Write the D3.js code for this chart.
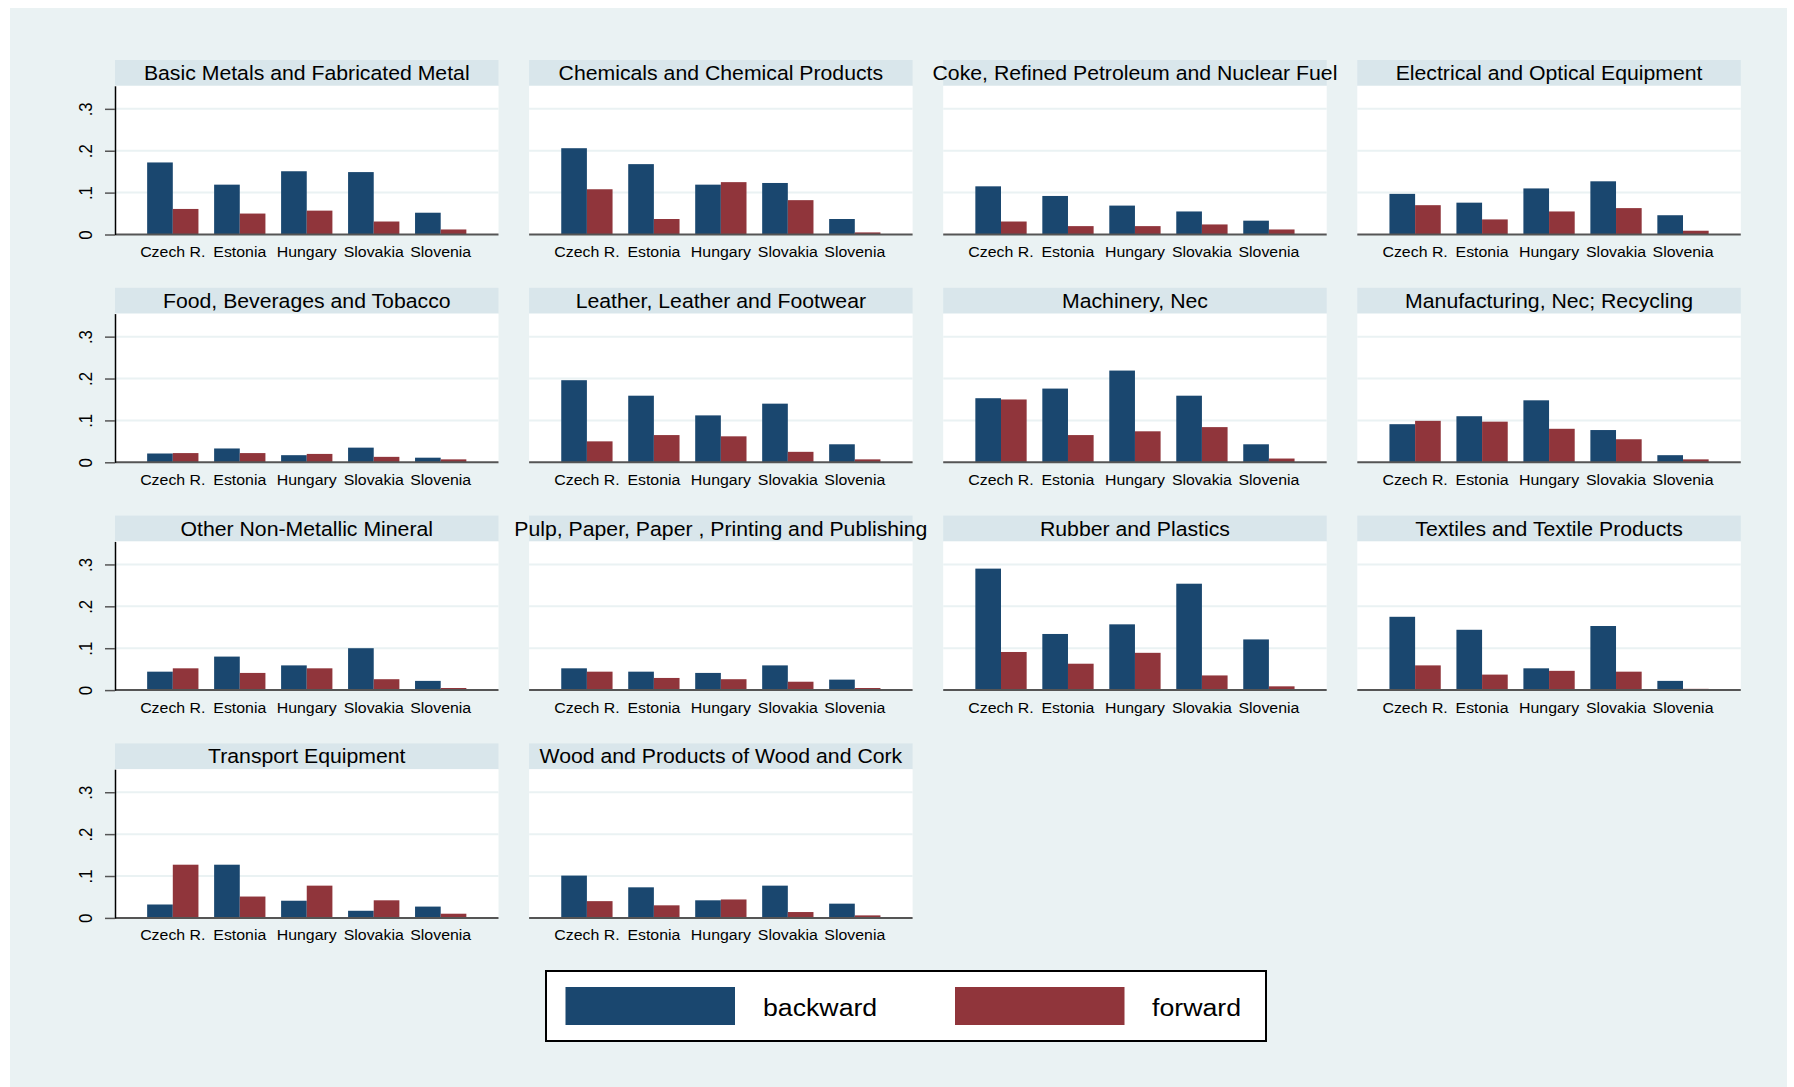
<!DOCTYPE html>
<html>
<head>
<meta charset="utf-8">
<script src="https://cdn.jsdelivr.net/npm/d3@7"></script>
<style>
  html, body { margin: 0; padding: 0; background: #ffffff; }
  svg { display: block; }
  text { font-family: "Liberation Sans", Arial, Helvetica, sans-serif; }
</style>
</head>
<body>
<svg id="chart" width="1794" height="1087"></svg>
<script>
// ---------------- data ----------------
const countries = ["Czech R.", "Estonia", "Hungary", "Slovakia", "Slovenia"];
const sectors = [
  "Basic Metals and Fabricated Metal",
  "Chemicals and Chemical Products",
  "Coke, Refined Petroleum and Nuclear Fuel",
  "Electrical and Optical Equipment",
  "Food, Beverages and Tobacco",
  "Leather, Leather and Footwear",
  "Machinery, Nec",
  "Manufacturing, Nec; Recycling",
  "Other Non-Metallic Mineral",
  "Pulp, Paper, Paper , Printing and Publishing",
  "Rubber and Plastics",
  "Textiles and Textile Products",
  "Transport Equipment",
  "Wood and Products of Wood and Cork"
];
const backward = [
  [0.172, 0.119, 0.151, 0.149, 0.052],
  [0.206, 0.168, 0.119, 0.123, 0.037],
  [0.115, 0.092, 0.069, 0.055, 0.033],
  [0.097, 0.076, 0.110, 0.127, 0.046],
  [0.021, 0.033, 0.017, 0.035, 0.011],
  [0.196, 0.159, 0.112, 0.140, 0.043],
  [0.153, 0.176, 0.219, 0.159, 0.043],
  [0.091, 0.110, 0.148, 0.077, 0.017],
  [0.044, 0.080, 0.059, 0.100, 0.022],
  [0.052, 0.044, 0.041, 0.059, 0.025],
  [0.290, 0.134, 0.157, 0.254, 0.121],
  [0.175, 0.144, 0.052, 0.153, 0.022],
  [0.032, 0.127, 0.041, 0.017, 0.027],
  [0.101, 0.073, 0.042, 0.077, 0.034]
];
const forward = [
  [0.061, 0.050, 0.057, 0.031, 0.012],
  [0.108, 0.037, 0.125, 0.082, 0.005],
  [0.031, 0.020, 0.020, 0.024, 0.012],
  [0.070, 0.036, 0.055, 0.063, 0.009],
  [0.022, 0.022, 0.020, 0.013, 0.007],
  [0.050, 0.065, 0.062, 0.025, 0.007],
  [0.150, 0.065, 0.074, 0.084, 0.009],
  [0.099, 0.097, 0.080, 0.055, 0.007],
  [0.052, 0.041, 0.052, 0.026, 0.005],
  [0.044, 0.029, 0.026, 0.020, 0.005],
  [0.091, 0.063, 0.089, 0.035, 0.009],
  [0.059, 0.037, 0.046, 0.044, 0.003],
  [0.127, 0.051, 0.077, 0.042, 0.010],
  [0.040, 0.030, 0.044, 0.014, 0.006]
];
const seriesNames = ["backward", "forward"];
const yTickValues = [0, 0.1, 0.2, 0.3];
const yTickLabels = ["0", ".1", ".2", ".3"];

// ---------------- styling / layout ----------------
const COLORS = { backward: "#1A476F", forward: "#90353B" };
const BG = "#EAF2F3", HEADER = "#D9E6EB", GRID = "#EAF2F3";
const SX = 1.09; // horizontal text stretch
const nCols = 4;
const colLeft0 = 115, colStep = 414.1;
const rowTop0 = 60, rowStep = 227.8;
const panelW = 383.5, headerH = 25.8, zeroOff = 174.5;

const svg = d3.select("#chart");
svg.append("rect").attr("x", 10).attr("y", 8).attr("width", 1777).attr("height", 1079).attr("fill", BG);

const x0 = d3.scaleBand().domain(countries).range([0, panelW]).paddingInner(0.234).paddingOuter(0.48);
const x1 = d3.scaleBand().domain(seriesNames).range([0, x0.bandwidth()]);
const y = d3.scaleLinear().domain([0, 0.355]).range([zeroOff, headerH]);

sectors.forEach((name, i) => {
  const col = i % nCols, row = Math.floor(i / nCols);
  const g = svg.append("g").attr("transform", `translate(${colLeft0 + col * colStep},${rowTop0 + row * rowStep})`);

  g.append("rect").attr("x", 0).attr("y", 0).attr("width", panelW).attr("height", headerH).attr("fill", HEADER);
  g.append("rect").attr("x", 0).attr("y", headerH).attr("width", panelW).attr("height", zeroOff - headerH).attr("fill", "#ffffff");

  g.selectAll("line.grid").data(yTickValues.filter(v => v > 0)).join("line")
    .attr("class", "grid")
    .attr("x1", 0).attr("x2", panelW)
    .attr("y1", d => y(d)).attr("y2", d => y(d))
    .attr("stroke", GRID).attr("stroke-width", 2);

  const rows = countries.map((c, k) => ({ country: c, values: [
    { key: "backward", v: backward[i][k] },
    { key: "forward", v: forward[i][k] }
  ]}));
  const grp = g.selectAll("g.grp").data(rows).join("g")
    .attr("class", "grp")
    .attr("transform", d => `translate(${x0(d.country)},0)`);
  grp.selectAll("rect").data(d => d.values).join("rect")
    .attr("x", d => x1(d.key))
    .attr("width", x1.bandwidth())
    .attr("y", d => y(d.v))
    .attr("height", d => y(0) - y(d.v))
    .attr("fill", d => COLORS[d.key]);

  g.append("line").attr("x1", 0).attr("x2", panelW).attr("y1", y(0)).attr("y2", y(0))
    .attr("stroke", "#555555").attr("stroke-width", 2);

  g.selectAll("text.cat").data(countries).join("text")
    .attr("class", "cat")
    .attr("transform", d => `translate(${x0(d) + x0.bandwidth() / 2},${zeroOff + 22.5}) scale(1.06,1)`)
    .attr("text-anchor", "middle")
    .attr("font-size", 15)
    .attr("fill", "#000")
    .text(d => d);

  g.append("text")
    .attr("transform", `translate(${panelW / 2},20) scale(${SX},1)`)
    .attr("text-anchor", "middle")
    .attr("font-size", 19.5)
    .attr("fill", "#000")
    .text(name);

  if (col === 0) {
    const ax = g.append("g").call(
      d3.axisLeft(y).tickValues(yTickValues).tickSize(10).tickSizeOuter(0)
        .tickFormat((d, k) => yTickLabels[k])
    );
    ax.select(".domain").attr("stroke", "#000").attr("stroke-width", 1.5);
    ax.selectAll(".tick line").attr("stroke", "#555555").attr("stroke-width", 1.5);
    ax.selectAll(".tick text")
      .attr("x", null).attr("dy", null)
      .attr("transform", `translate(-23,0) scale(${SX},1) rotate(-90)`)
      .attr("text-anchor", "middle")
      .attr("font-size", 16.7)
      .attr("font-family", '"Liberation Sans", Arial, sans-serif')
      .attr("fill", "#000");
  }
});

// ---------------- legend ----------------
const lg = svg.append("g");
lg.append("rect").attr("x", 546).attr("y", 971).attr("width", 720).attr("height", 70)
  .attr("fill", "#ffffff").attr("stroke", "#000").attr("stroke-width", 2);
const legendItems = [
  { key: "backward", sx: 565.5, tx: 763 },
  { key: "forward", sx: 955, tx: 1152 }
];
legendItems.forEach(it => {
  lg.append("rect").attr("x", it.sx).attr("y", 987).attr("width", 169.5).attr("height", 38)
    .attr("fill", COLORS[it.key]);
  lg.append("text")
    .attr("transform", `translate(${it.tx},1015.5) scale(${SX},1)`)
    .attr("font-size", 24.5).attr("fill", "#000")
    .text(it.key);
});
</script>
</body>
</html>
